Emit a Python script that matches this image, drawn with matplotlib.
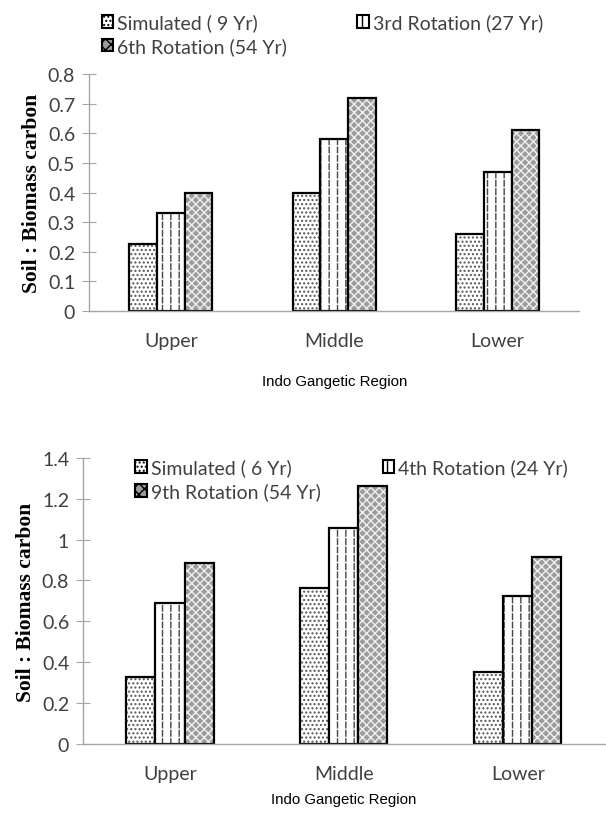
import matplotlib
matplotlib.use("Agg")
import matplotlib.pyplot as plt
from matplotlib.patches import Patch
import numpy as np

# data
regions = ["Upper", "Middle", "Lower"]

top_labels = ["Simulated ( 9 Yr)", "3rd Rotation (27 Yr)", "6th Rotation (54 Yr)"]
top_sim = [0.225, 0.40, 0.26]
top_rot1 = [0.33, 0.58, 0.47]
top_rot2 = [0.40, 0.72, 0.61]
top_ticks = [0, 0.1, 0.2, 0.3, 0.4, 0.5, 0.6, 0.7, 0.8]
top_ticklabels = ["0", "0.1", "0.2", "0.3", "0.4", "0.5", "0.6", "0.7", "0.8"]

bot_labels = ["Simulated ( 6 Yr)", "4th Rotation (24 Yr)", "9th Rotation (54 Yr)"]
bot_sim = [0.33, 0.765, 0.35]
bot_rot1 = [0.69, 1.055, 0.725]
bot_rot2 = [0.885, 1.26, 0.915]
bot_ticks = [0, 0.2, 0.4, 0.6, 0.8, 1.0, 1.2, 1.4]
bot_ticklabels = ["0", "0.2", "0.4", "0.6", "0.8", "1", "1.2", "1.4"]

plt.rcParams['hatch.linewidth'] = 1.0

AXIS_GRAY = "#a6a6a6"
TEXT_GRAY = "#404040"
TICK_FONT = "Lato"


def hatched_bars(ax, x, vals, width, style):
    if style == "dots":
        ax.bar(x, vals, width, color="white", hatch="....", edgecolor="#555555", linewidth=0)
    elif style == "dashes":
        ax.bar(x, vals, width, color="white", hatch="||", edgecolor="#444444", linewidth=0)
        ax.bar(x, vals, width, color="none", hatch="--", edgecolor="white", linewidth=0)
    else:
        ax.bar(x, vals, width, color="#9c9c9c", hatch="xxxx", edgecolor="#f0f0f0", linewidth=0)
    # black outline on top
    ax.bar(x, vals, width, fill=False, edgecolor="black", linewidth=1.6)


def draw_panel(ax, series, labels, ticks, ticklabels, ymax, width, leg_anchor, colspace, xlab_y):
    x = np.arange(len(regions))
    styles = ["dots", "dashes", "herring"]
    for i, (vals, st) in enumerate(zip(series, styles)):
        hatched_bars(ax, x + (i - 1) * width, vals, width, st)

    ax.set_xlim(-0.5, 2.5)
    ax.set_ylim(0, ymax)
    ax.set_yticks(ticks)
    ax.set_yticklabels(ticklabels, fontsize=14, color=TEXT_GRAY, family=TICK_FONT)
    ax.set_xticks(x)
    ax.set_xticklabels(regions, fontsize=14, color=TEXT_GRAY, family=TICK_FONT)
    ax.tick_params(axis="y", direction="inout", length=10, color=AXIS_GRAY, pad=5)
    ax.tick_params(axis="x", length=0, pad=15)
    for s in ["top", "right"]:
        ax.spines[s].set_visible(False)
    ax.spines["left"].set_color(AXIS_GRAY)
    ax.spines["bottom"].set_color(AXIS_GRAY)
    ax.spines["left"].set_linewidth(1.0)
    ax.spines["bottom"].set_linewidth(1.0)

    ax.set_ylabel("Soil : Biomass carbon", family="Liberation Serif", fontweight="bold",
                  fontsize=15.5, labelpad=4)
    ax.set_xlabel("Indo Gangetic Region", family="Liberation Sans", fontsize=10.8, va="center")
    ax.xaxis.set_label_coords(0.5, xlab_y)

    handles = [
        Patch(facecolor="white", edgecolor="black", hatch="....", linewidth=1.5),
        Patch(facecolor="#9c9c9c", edgecolor="black", hatch="xxx", linewidth=1.5),
        Patch(facecolor="white", edgecolor="black", hatch="||", linewidth=1.5),
    ]
    # column-major fill: sim / last rotation in col 1, middle rotation in col 2
    order = [labels[0], labels[2], labels[1]]
    ax.legend(handles, order, ncol=2, frameon=False, loc="upper left",
              bbox_to_anchor=leg_anchor, bbox_transform=ax.figure.transFigure,
              prop={"family": TICK_FONT, "size": 14}, labelcolor=TEXT_GRAY,
              handlelength=0.6, handleheight=0.6, handletextpad=0.2,
              columnspacing=colspace, labelspacing=0.3, borderaxespad=0)


fig = plt.figure(figsize=(6.06, 8.2), dpi=100)

ax1 = fig.add_axes([0.147, 0.6195, 0.809, 0.289])
draw_panel(ax1, [top_sim, top_rot1, top_rot2], top_labels, top_ticks, top_ticklabels,
           0.8, 0.17, (0.155, 0.992), 3.6, -0.295)

ax2 = fig.add_axes([0.137, 0.0915, 0.861, 0.349])
draw_panel(ax2, [bot_sim, bot_rot1, bot_rot2], bot_labels, bot_ticks, bot_ticklabels,
           1.4, 0.167, (0.21, 0.449), 3.2, -0.192)

fig.savefig("out.png", dpi=100)
